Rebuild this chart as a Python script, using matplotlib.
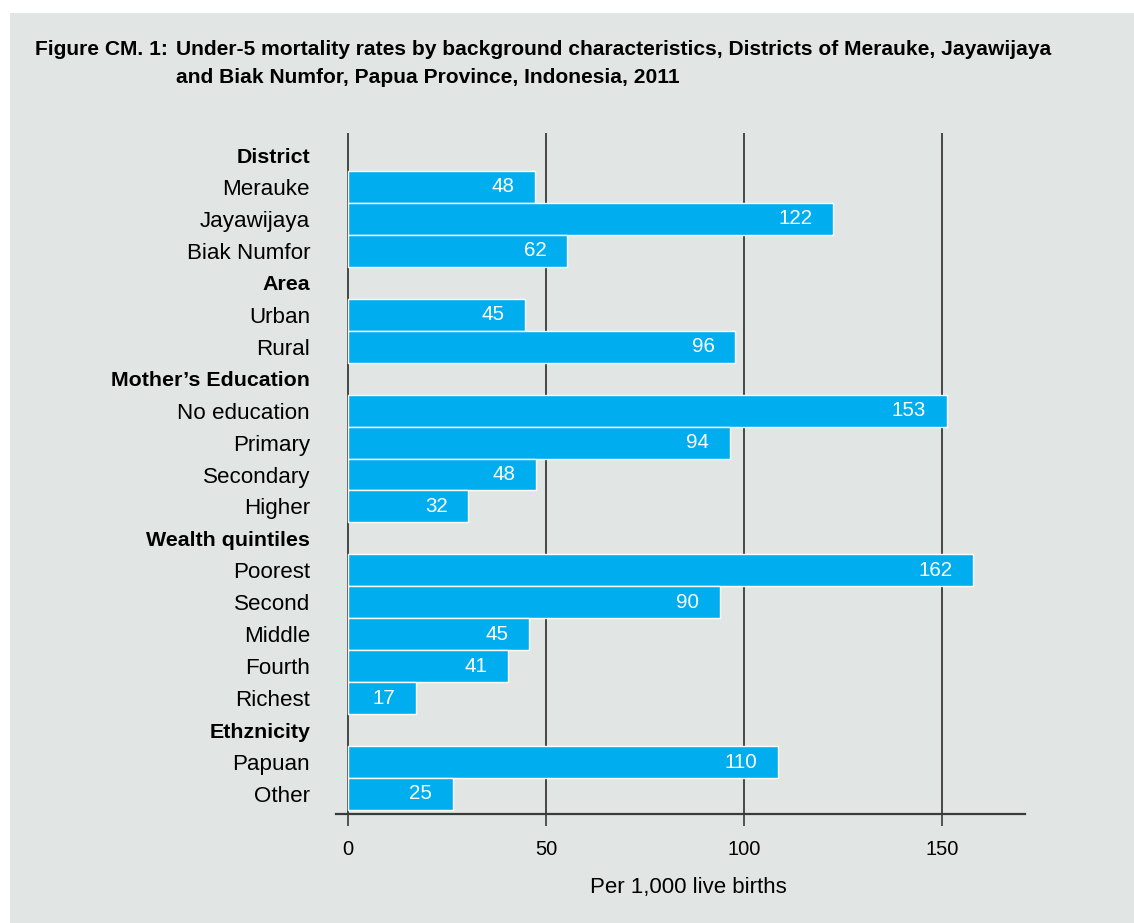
"""
Under-5 mortality rates by background characteristics - horizontal bar chart
"""
import matplotlib
matplotlib.use('Agg')
import matplotlib.pyplot as plt
from matplotlib.patches import Rectangle

plt.rcParams['font.family'] = ['Liberation Sans', 'DejaVu Sans']

BG = '#e1e5e4'
BAR = '#00aeef'
DARK = '#3a3a3a'

# 행 레이블 (위에서 아래로, 섹션 제목 포함)
labels = ['District', 'Merauke', 'Jayawijaya', 'Biak Numfor',
          'Area', 'Urban', 'Rural',
          'Mother’s Education', 'No education', 'Primary', 'Secondary', 'Higher',
          'Wealth quintiles', 'Poorest', 'Second', 'Middle', 'Fourth', 'Richest',
          'Ethznicity', 'Papuan', 'Other']
headers = ['District', 'Area', 'Mother’s Education', 'Wealth quintiles', 'Ethznicity']

# 막대에 적힌 값 (per 1,000 live births), 제목 행은 None
rates = [None, 48, 122, 62,
         None, 45, 96,
         None, 153, 94, 48, 32,
         None, 162, 90, 45, 41, 17,
         None, 110, 25]

# 원본 그림에서 실제로 그려진 막대 길이 (일부는 적힌 값과 다름)
bar_lengths = [None, 47.2, 122.5, 55.4,
               None, 44.8, 97.8,
               None, 151.2, 96.5, 47.6, 30.4,
               None, 157.9, 93.9, 45.7, 40.5, 17.1,
               None, 108.7, 26.4]

x_ticks = [0, 50, 100, 150]

W, H = 1134, 923
fig = plt.figure(figsize=(W / 100, H / 100), dpi=100)
fig.patch.set_facecolor('white')
# 회색 패널 (왼쪽/위쪽은 흰 여백)
fig.add_artist(Rectangle((10 / W, 0), 1, 1 - 13 / H, transform=fig.transFigure,
                         facecolor=BG, edgecolor='none', zorder=-10))

# 제목
title_kw = dict(fontsize=15.1, fontweight='bold', va='baseline', color='black')
fig.text(35 / W, 1 - 55 / H, 'Figure CM. 1:', **title_kw)
fig.text(176 / W, 1 - 55 / H,
         'Under-5 mortality rates by background characteristics, Districts of Merauke, Jayawijaya',
         **title_kw)
fig.text(176 / W, 1 - 83 / H, 'and Biak Numfor, Papua Province, Indonesia, 2011', **title_kw)

ax = fig.add_axes([336 / W, 1 - 814 / H, (1025 - 336) / W, (814 - 133) / H])
ax.set_facecolor(BG)

rows = [i for i, b in enumerate(bar_lengths) if b is not None]
ax.barh(rows, [bar_lengths[i] for i in rows], height=1.0, color=BAR,
        edgecolor='white', linewidth=1.0, zorder=3)

for i in rows:
    ax.annotate(str(rates[i]), xy=(bar_lengths[i], i), xytext=(-15, 0),
                textcoords='offset points', ha='right', va='center',
                color='white', fontsize=14.8, zorder=4)

for t in x_ticks:
    ax.axvline(t, color=DARK, linewidth=1.3, zorder=1)

ax.set_xlim(-3.03, 170.96)
ax.set_ylim(20.626, -0.689)

for side in ['left', 'top', 'right']:
    ax.spines[side].set_visible(False)
ax.spines['bottom'].set_color(DARK)
ax.spines['bottom'].set_linewidth(1.6)

ax.set_xticks(x_ticks)
ax.set_xticklabels([str(t) for t in x_ticks])
ax.tick_params(axis='x', length=8.6, width=1.2, color=DARK, pad=10, labelsize=14.5)

ax.set_yticks(range(len(labels)))
ax.set_yticklabels(labels)
ax.tick_params(axis='y', length=0, pad=18.7)
for lbl in ax.get_yticklabels():
    if lbl.get_text() in headers:
        lbl.set_fontweight('bold')
        lbl.set_fontsize(15.4)
    else:
        lbl.set_fontsize(16.1)

fig.text(688 / W, 1 - 888 / H, 'Per 1,000 live births', ha='center', va='center',
         fontsize=16)

fig.savefig('out.png', dpi=100, facecolor=fig.get_facecolor())
